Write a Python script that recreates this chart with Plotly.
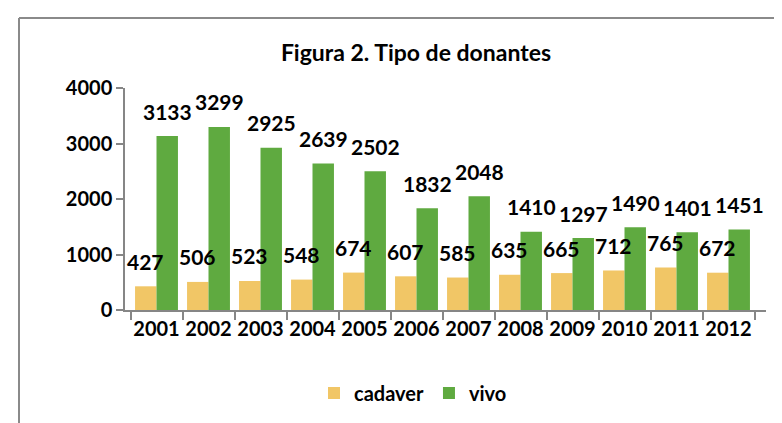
import plotly.graph_objects as go

years = ["2001", "2002", "2003", "2004", "2005", "2006", "2007", "2008", "2009", "2010", "2011", "2012"]
cadaver = [427, 506, 523, 548, 674, 607, 585, 635, 665, 712, 765, 672]
vivo = [3133, 3299, 2925, 2639, 2502, 1832, 2048, 1410, 1297, 1490, 1401, 1451]

W, H = 782, 423
L, R, T, B = 117, 24, 80, 121
pw, ph = W - L - R, H - T - B

def px(x):
    return (x - L) / pw

def py(y):
    return (H - B - y) / ph

FONT = "Lato"
fig = go.Figure()
fig.add_trace(go.Bar(x=years, y=cadaver, name="cadaver",
                     marker=dict(color="#F1C666", line=dict(width=0))))
fig.add_trace(go.Bar(x=years, y=vivo, name="vivo",
                     marker=dict(color="#5FAA40", line=dict(width=0))))

ann = []
for i, (c, v) in enumerate(zip(cadaver, vivo)):
    ann.append(dict(x=i, y=c, xshift=-11, yshift=25, text=str(c), showarrow=False,
                    font=dict(family=FONT, size=21, color="black", weight="bold")))
    ann.append(dict(x=i, y=v, xshift=11, yshift=25, text=str(v), showarrow=False,
                    font=dict(family=FONT, size=21, color="black", weight="bold")))

fig.update_layout(
    width=W, height=H,
    margin=dict(l=L, r=R, t=T, b=B, autoexpand=False),
    paper_bgcolor="white", plot_bgcolor="white",
    barmode="group", bargap=0.175, bargroupgap=0,
    title=dict(text="<b>Figura 2. Tipo de donantes</b>", x=408 / W, xanchor="center",
               y=1 - 45 / H, yanchor="middle",
               font=dict(family=FONT, size=23, color="black")),
    font=dict(family=FONT, color="black"),
    showlegend=True,
    legend=dict(orientation="h", x=px(405), xanchor="center", y=py(385), yanchor="middle",
                font=dict(family=FONT, size=20, color="black", weight="bold"),
                bgcolor="rgba(0,0,0,0)"),
    annotations=ann,
    shapes=[
        dict(type="line", xref="paper", yref="paper", x0=px(11), y0=py(10), x1=px(790), y1=py(10),
             line=dict(color="#8a8a8a", width=2)),
        dict(type="line", xref="paper", yref="paper", x0=px(11), y0=py(10), x1=px(11), y1=py(430),
             line=dict(color="#8a8a8a", width=2)),
    ],
)
fig.update_xaxes(type="category", showline=True, linecolor="#868686", linewidth=1.5,
                 ticks="outside", tickson="boundaries", ticklen=8, tickcolor="#868686",
                 tickwidth=1.5, showgrid=False, tickangle=0, automargin=False,
                 tickfont=dict(family=FONT, size=20, color="black", weight="bold"))
fig.update_yaxes(range=[0, 4000], tickvals=[0, 1000, 2000, 3000, 4000], showline=True,
                 linecolor="#868686", linewidth=1.5, ticks="outside", ticklen=7,
                 tickcolor="#868686", tickwidth=1.5, showgrid=False, zeroline=False,
                 automargin=False,
                 tickfont=dict(family=FONT, size=20, color="black", weight="bold"))

fig.write_html("out.html")
